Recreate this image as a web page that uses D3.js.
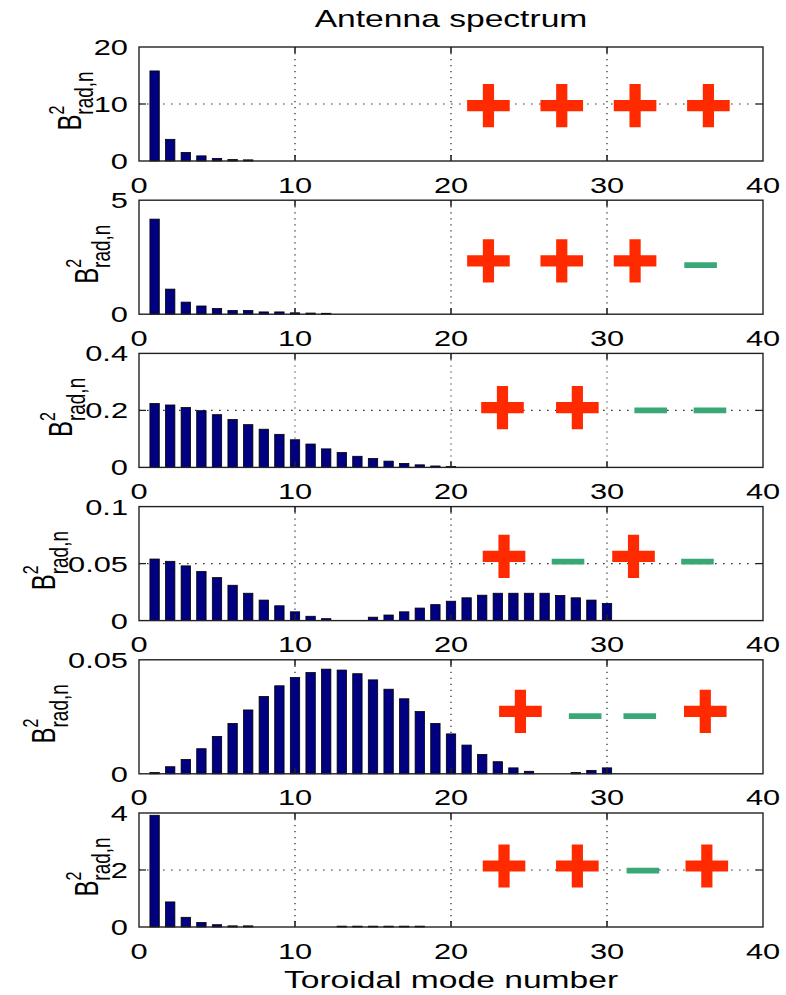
<!DOCTYPE html>
<html>
<head>
<meta charset="utf-8">
<script src="https://cdn.jsdelivr.net/npm/d3@7"></script>
<style>
  body { margin: 0; background: #fff; }
  text { font-family: "Liberation Sans", Arial, sans-serif; fill: #000; }
</style>
</head>
<body>
<div id="chart"></div>
<script>
// toroidal mode numbers (bar categories)
var modes = [1, 2, 3, 4, 5, 6, 7, 8, 9, 10, 11, 12, 13, 14, 15, 16, 17, 18, 19, 20,
             21, 22, 23, 24, 25, 26, 27, 28, 29, 30];
var xTicks = [0, 10, 20, 30, 40];

// spectrum values, one array per antenna configuration
var spec1 = [15.8, 3.8, 1.5, 0.9, 0.45, 0.25, 0.2];
var spec2 = [4.17, 1.1, 0.53, 0.36, 0.25, 0.16, 0.16, 0.1, 0.1, 0.06, 0.05, 0.04];
var spec3 = [0.224, 0.219, 0.21, 0.199, 0.185, 0.168, 0.15, 0.134, 0.116, 0.097,
             0.082, 0.065, 0.052, 0.039, 0.031, 0.022, 0.014, 0.009, 0.005, 0.003];
var spec4 = [0.054, 0.052, 0.048, 0.043, 0.0377, 0.031, 0.024, 0.018, 0.013, 0.0077,
             0.0038, 0.0017, 0, 0, 0.003, 0.0049, 0.0077, 0.011, 0.014, 0.017,
             0.020, 0.0223, 0.024, 0.024, 0.024, 0.024, 0.022, 0.020, 0.018, 0.015];
var spec5 = [0.0006, 0.0031, 0.0063, 0.011, 0.0164, 0.0221, 0.028, 0.0339, 0.0386, 0.0422,
             0.0444, 0.0459, 0.0455, 0.0439, 0.0412, 0.0371, 0.0329, 0.0273, 0.0221, 0.0175,
             0.0126, 0.0085, 0.0053, 0.0026, 0.0011, 0, 0, 0.0006, 0.0015, 0.0026];
var spec6 = [3.92, 0.88, 0.34, 0.16, 0.08, 0.04, 0.04, 0, 0, 0, 0, 0,
             0.03, 0.03, 0.03, 0.03, 0.03, 0.03];

// y axis range and ticks per panel
var yMax = [20, 5, 0.4, 0.1, 0.05, 4];
var yTicks1 = [0, 10, 20];
var yTicks2 = [0, 5];
var yTicks3 = [0, 0.2, 0.4];
var yTicks4 = [0, 0.05, 0.1];
var yTicks5 = [0, 0.05];
var yTicks6 = [0, 2, 4];

// coil phasing signs drawn in each panel
var signs1 = ['+', '+', '+', '+'];
var signX1 = [22.4, 27.1, 31.8, 36.5];
var signY1 = [9.7, 9.7, 9.7, 9.7];
var signs2 = ['+', '+', '+', '-'];
var signX2 = [22.4, 27.1, 31.8, 36.0];
var signY2 = [2.34, 2.34, 2.34, 2.15];
var signs3 = ['+', '+', '-', '-'];
var signX3 = [23.3, 28.1, 32.8, 36.6];
var signY3 = [0.21, 0.21, 0.2, 0.2];
var signs4 = ['+', '-', '+', '-'];
var signX4 = [23.4, 27.5, 31.7, 35.8];
var signY4 = [0.0563, 0.0517, 0.0563, 0.0517];
var signs5 = ['+', '-', '-', '+'];
var signX5 = [24.45, 28.6, 32.1, 36.3];
var signY5 = [0.0274, 0.0253, 0.0253, 0.0274];
var signs6 = ['+', '+', '-', '+'];
var signX6 = [23.4, 28.1, 32.3, 36.4];
var signY6 = [2.14, 2.14, 1.98, 2.14];

var panels = [
	{spec: spec1, ticks: yTicks1, signs: signs1, sx: signX1, sy: signY1},
	{spec: spec2, ticks: yTicks2, signs: signs2, sx: signX2, sy: signY2},
	{spec: spec3, ticks: yTicks3, signs: signs3, sx: signX3, sy: signY3},
	{spec: spec4, ticks: yTicks4, signs: signs4, sx: signX4, sy: signY4},
	{spec: spec5, ticks: yTicks5, signs: signs5, sx: signX5, sy: signY5},
	{spec: spec6, ticks: yTicks6, signs: signs6, sx: signX6, sy: signY6}
];

var width = 786, height = 995;
var left = 139, right = 763;
var top0 = 47, step = 153.2, panelH = 114;
var SX = 1.4; // the original figure is stretched sideways, text too
var fontSize = 22;

var svg = d3.select('#chart').append('svg')
	.attr('width', width)
	.attr('height', height);

var x = d3.scaleLinear().domain([0, 40]).range([left, right]);
var barW = x(0.6) - x(0);

function fmt(v) { return String(v); }

panels.forEach(function(p, k) {
	var top = top0 + k * step;
	var bottom = top + panelH;
	var y = d3.scaleLinear().domain([0, yMax[k]]).range([bottom, top]);
	var g = svg.append('g').attr('class', 'panel');

	// grid
	g.selectAll('.vgrid').data(xTicks.slice(1, -1)).enter().append('line')
		.attr('x1', function(d) { return x(d); }).attr('x2', function(d) { return x(d); })
		.attr('y1', top).attr('y2', bottom)
		.attr('stroke', '#333').attr('stroke-width', 1.3)
		.attr('stroke-dasharray', '1.2,4.8');
	g.selectAll('.hgrid').data(p.ticks.slice(1, -1)).enter().append('line')
		.attr('x1', left).attr('x2', right)
		.attr('y1', function(d) { return y(d); }).attr('y2', function(d) { return y(d); })
		.attr('stroke', '#333').attr('stroke-width', 1.2)
		.attr('stroke-dasharray', '1.6,6.4');

	// bars (zero modes are not drawn)
	var bars = [];
	p.spec.forEach(function(v, i) { if (v > 0) bars.push({n: modes[i], v: v}); });
	g.selectAll('rect.bar').data(bars).enter().append('rect')
		.attr('class', 'bar')
		.attr('x', function(d) { return x(d.n) - barW / 2; })
		.attr('y', function(d) { return y(d.v); })
		.attr('width', barW)
		.attr('height', function(d) { return y(0) - y(d.v); })
		.attr('fill', '#000080')
		.attr('stroke', '#000')
		.attr('stroke-width', 0.8);

	// signs
	var marks = p.signs.map(function(s, i) { return {s: s, x: p.sx[i], y: p.sy[i]}; });
	g.selectAll('.mark').data(marks).enter().append('path')
		.attr('transform', function(d) { return 'translate(' + x(d.x) + ',' + y(d.y) + ')'; })
		.attr('d', function(d) {
			if (d.s === '+') {
				var a = 21.3, b = 21.6, t = 5.6;
				return 'M' + (-a) + ',' + (-t) + 'H' + (-t) + 'V' + (-b) + 'H' + t + 'V' + (-t) +
					'H' + a + 'V' + t + 'H' + t + 'V' + b + 'H' + (-t) + 'V' + t + 'H' + (-a) + 'Z';
			}
			return 'M-16.3,-2.9H16.3V2.9H-16.3Z';
		})
		.attr('fill', function(d) { return d.s === '+' ? '#ff2a00' : '#3aa876'; });

	// box
	g.append('rect')
		.attr('x', left).attr('y', top)
		.attr('width', right - left).attr('height', panelH)
		.attr('fill', 'none').attr('stroke', '#222').attr('stroke-width', 1.4);

	// inward ticks on all sides
	xTicks.slice(1, -1).forEach(function(t) {
		g.append('line').attr('x1', x(t)).attr('x2', x(t)).attr('y1', bottom).attr('y2', bottom - 6)
			.attr('stroke', '#222').attr('stroke-width', 1.6);
		g.append('line').attr('x1', x(t)).attr('x2', x(t)).attr('y1', top).attr('y2', top + 6)
			.attr('stroke', '#222').attr('stroke-width', 1.6);
	});
	p.ticks.slice(1, -1).forEach(function(t) {
		g.append('line').attr('x1', left).attr('x2', left + 7).attr('y1', y(t)).attr('y2', y(t))
			.attr('stroke', '#222').attr('stroke-width', 1.3);
		g.append('line').attr('x1', right).attr('x2', right - 7).attr('y1', y(t)).attr('y2', y(t))
			.attr('stroke', '#222').attr('stroke-width', 1.3);
	});

	// tick labels
	g.selectAll('.xlab').data(xTicks).enter().append('text')
		.attr('transform', function(d) { return 'translate(' + x(d) + ',' + (bottom + 31.5) + ') scale(' + SX + ',1)'; })
		.attr('text-anchor', 'middle')
		.style('font-size', fontSize + 'px')
		.text(fmt);
	var ylabs = g.selectAll('.ylab').data(p.ticks).enter().append('text')
		.attr('transform', function(d) { return 'translate(' + (left - 11) + ',' + y(d) + ') scale(' + SX + ',1)'; })
		.attr('text-anchor', 'end')
		.attr('dy', '0.36em')
		.style('font-size', fontSize + 'px')
		.text(fmt);

	var minX = left;
	ylabs.each(function() {
		var w = this.getComputedTextLength() * SX;
		minX = Math.min(minX, left - 11 - w);
	});

	// y label  B^2_{rad,n}
	var lab = g.append('text')
		.attr('transform', 'translate(' + (minX - 13) + ',' + ((top + bottom) / 2 - 3) + ') scale(' + SX + ',1) rotate(-90)')
		.attr('text-anchor', 'middle')
		.style('font-size', '24px');
	lab.append('tspan').text('B');
	lab.append('tspan').attr('dy', -12).style('font-size', '16px').text('2');
	lab.append('tspan').attr('dx', -9).attr('dy', 21).style('font-size', '19px').text('rad,n');
});

// title and x label
svg.append('text')
	.attr('transform', 'translate(' + ((left + right) / 2) + ',27) scale(' + SX + ',1)')
	.attr('text-anchor', 'middle')
	.style('font-size', '24px')
	.text('Antenna spectrum');

svg.append('text')
	.attr('transform', 'translate(' + ((left + right) / 2) + ',988) scale(' + SX + ',1)')
	.attr('text-anchor', 'middle')
	.style('font-size', '24px')
	.text('Toroidal mode number');
</script>
</body>
</html>
